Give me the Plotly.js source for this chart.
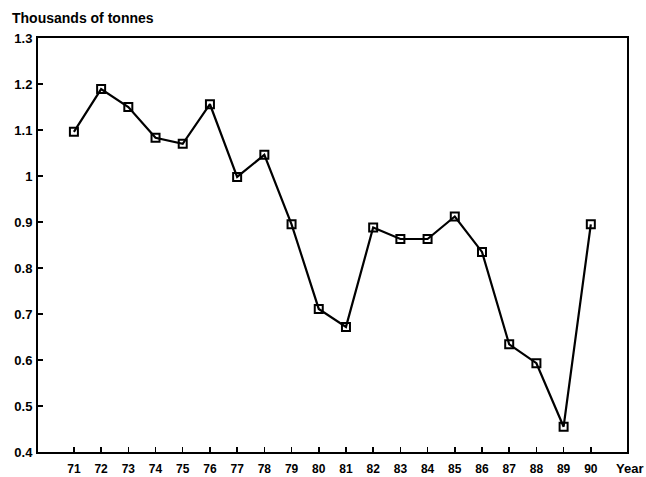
<!DOCTYPE html>
<html>
<head>
<meta charset="utf-8">
<script src="https://cdn.plot.ly/plotly-3.0.1.min.js"></script>
<style>html,body{margin:0;padding:0;background:#fff;}#chart{width:646px;height:477px;}</style>
</head>
<body>
<div id="chart"></div>
<script>
const years = [71,72,73,74,75,76,77,78,79,80,81,82,83,84,85,86,87,88,89,90];
const values = [1.096,1.189,1.150,1.083,1.070,1.156,0.998,1.046,0.895,0.711,0.672,0.888,0.863,0.863,0.912,0.835,0.634,0.593,0.455,0.895];
const yTicks = [0.4,0.5,0.6,0.7,0.8,0.9,1,1.1,1.2,1.3];
const yTickText = ['0.4','0.5','0.6','0.7','0.8','0.9','1','1.1','1.2','1.3'];

const fam = 'Liberation Sans, Arial, sans-serif';

Plotly.newPlot('chart', [{
  x: years, y: values, type: 'scatter', mode: 'lines+markers',
  line: {color: '#000', width: 2.2},
  marker: {symbol: 'square-open', size: 8, color: '#000', line: {width: 2, color: '#000'}}
}], {
  width: 646, height: 477,
  margin: {l: 38, r: 19, t: 38, b: 25},
  paper_bgcolor: '#fff', plot_bgcolor: '#fff',
  showlegend: false,
  font: {family: fam, size: 12, color: '#000'},
  xaxis: {
    range: [69.68, 91.33], tickvals: years, ticktext: years.map(String),
    ticks: 'inside', ticklen: 5, tickwidth: 1.5, tickcolor: '#000',
    ticklabelstandoff: 5,
    showline: true, linecolor: '#000', linewidth: 2, mirror: true,
    showgrid: false, zeroline: false,
    tickfont: {family: fam, size: 12, color: '#000', weight: 'bold'}
  },
  yaxis: {
    range: [0.4, 1.3], tickvals: yTicks, ticktext: yTickText,
    ticks: 'inside', ticklen: 5, tickwidth: 1.5, tickcolor: '#000',
    ticklabelstandoff: 1,
    showline: true, linecolor: '#000', linewidth: 2, mirror: true,
    showgrid: false, zeroline: false,
    tickfont: {family: fam, size: 13, color: '#000', weight: 'bold'}
  },
  annotations: [
    {text: 'Thousands of tonnes', xref: 'paper', yref: 'paper', x: -0.048, y: 1.049,
     xanchor: 'left', yanchor: 'middle', showarrow: false,
     font: {family: fam, size: 14, color: '#000', weight: 'bold'}},
    {text: 'Year', xref: 'paper', yref: 'paper', x: 1.03, y: -0.041,
     xanchor: 'right', yanchor: 'middle', showarrow: false,
     font: {family: fam, size: 13, color: '#000', weight: 'bold'}}
  ]
}, {displayModeBar: false, staticPlot: true});
</script>
</body>
</html>
